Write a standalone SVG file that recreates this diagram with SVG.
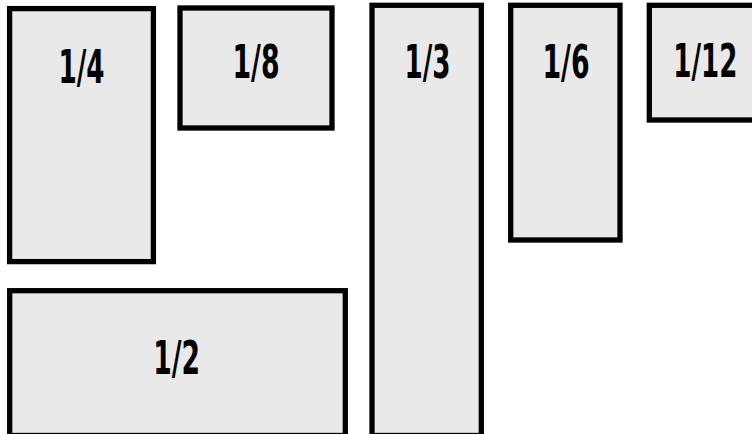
<svg xmlns="http://www.w3.org/2000/svg" width="752" height="434" viewBox="0 0 752 434">
  <style>
    .box { fill: #e9e9e9; stroke: #000000; stroke-width: 5.3; }
    .lbl { font-family: "Liberation Sans Narrow", "DejaVu Sans Condensed", "Liberation Sans", sans-serif; font-weight: bold; font-size: 47px; fill: #000000; text-anchor: middle; }
  </style>
  <rect width="752" height="434" fill="#ffffff"/>
  <g id="n-quarter">
    <rect class="box" x="9.6" y="8.6" width="143.8" height="253"/>
    <text class="lbl" x="81.5" y="83.3" textLength="46" lengthAdjust="spacingAndGlyphs">1/4</text>
  </g>
  <g id="n-eighth">
    <rect class="box" x="180" y="8" width="152" height="120"/>
    <text class="lbl" x="256" y="78.3" textLength="47" lengthAdjust="spacingAndGlyphs">1/8</text>
  </g>
  <g id="n-third">
    <rect class="box" x="372" y="5.3" width="109.3" height="430.2"/>
    <text class="lbl" x="427.5" y="78.3" textLength="46" lengthAdjust="spacingAndGlyphs">1/3</text>
  </g>
  <g id="n-sixth">
    <rect class="box" x="510.7" y="5.3" width="109.3" height="234.7"/>
    <text class="lbl" x="566" y="78.3" textLength="47" lengthAdjust="spacingAndGlyphs">1/6</text>
  </g>
  <g id="n-twelfth">
    <rect class="box" x="649.3" y="5.3" width="112" height="114.7"/>
    <text class="lbl" x="705.3" y="77" textLength="64" lengthAdjust="spacingAndGlyphs">1/12</text>
  </g>
  <g id="n-half">
    <rect class="box" x="9.7" y="290.7" width="335.6" height="144.8"/>
    <text class="lbl" x="176.7" y="374" font-size="44" textLength="46.7" lengthAdjust="spacingAndGlyphs">1/2</text>
  </g>
  <g id="connectors"/>
</svg>
